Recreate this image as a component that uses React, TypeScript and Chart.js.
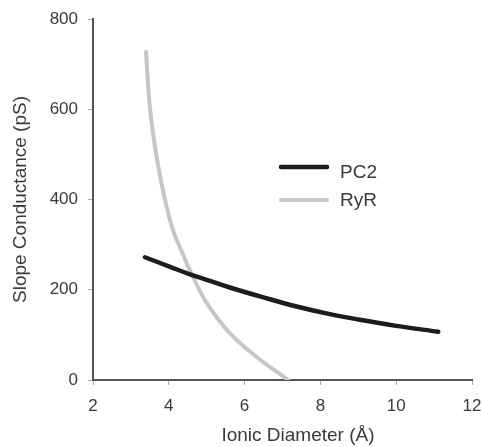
import React, { useEffect, useRef } from "react";
import { Chart, registerables } from "chart.js";
Chart.register(...registerables);

const seriesNames = ["PC2", "RyR"];
const pc2X = [3.37, 4.0, 4.56, 5.0, 5.61, 6.5, 7.37, 8.25, 9.0, 10.0, 11.11];
const pc2Y = [272, 252, 234, 222, 205, 183, 163, 146, 134, 120, 107];
const ryrX = [3.4, 3.5, 3.68, 3.9, 4.12, 4.35, 4.58, 5.0, 5.61, 6.32, 7.15];
const ryrY = [727, 605, 494, 399, 330, 283, 239, 171, 104, 51, 0];
const xTitle = "Ionic Diameter (Å)";
const yTitle = "Slope Conductance (pS)";

const FONT = "'Liberation Sans', Arial, sans-serif";
const TEXT = "#3a3a3a";

const overlay = {
  id: "overlay",
  afterDraw(chart: any) {
    const ctx = chart.ctx;
    const a = chart.chartArea;
    ctx.save();
    ctx.fillStyle = TEXT;
    ctx.font = `19px ${FONT}`;
    ctx.textAlign = "center";
    ctx.textBaseline = "middle";
    ctx.fillText(xTitle, a.left + 205, 436);
    ctx.save();
    ctx.translate(21, (a.top + a.bottom) / 2);
    ctx.rotate(-Math.PI / 2);
    ctx.fillText(yTitle, 0, 0);
    ctx.restore();
    const ds = chart.data.datasets;
    const ys = [167, 200];
    const ty = [173, 201];
    ds.forEach((d: any, i: number) => {
      ctx.strokeStyle = d.borderColor;
      ctx.lineWidth = d.borderWidth;
      ctx.lineCap = "round";
      ctx.beginPath();
      ctx.moveTo(a.left + 188, ys[i]);
      ctx.lineTo(a.left + 234, ys[i]);
      ctx.stroke();
      ctx.fillStyle = TEXT;
      ctx.font = `19px ${FONT}`;
      ctx.textAlign = "left";
      ctx.textBaseline = "middle";
      ctx.fillText(d.label, a.left + 247, ty[i]);
    });
    ctx.restore();
  },
};

export default function App() {
  const ref = useRef<HTMLCanvasElement>(null);
  useEffect(() => {
    if (!ref.current) return;
    const chart = new Chart(ref.current, {
      type: "line",
      data: {
        datasets: [
          {
            label: seriesNames[0],
            data: pc2X.map((x, i) => ({ x, y: pc2Y[i] })),
            borderColor: "#1c1c1c",
            borderWidth: 4.5,
            pointRadius: 0,
            tension: 0.4,
            borderCapStyle: "round",
            fill: false,
          },
          {
            label: seriesNames[1],
            data: ryrX.map((x, i) => ({ x, y: ryrY[i] })),
            borderColor: "#c6c6c6",
            borderWidth: 4,
            pointRadius: 0,
            tension: 0.4,
            borderCapStyle: "round",
            fill: false,
          },
        ],
      },
      options: {
        responsive: false,
        animation: false,
        layout: { padding: { top: 19, right: 10, left: 0, bottom: 0 } },
        plugins: { legend: { display: false }, tooltip: { enabled: false } },
        scales: {
          x: {
            type: "linear",
            min: 2,
            max: 12,
            ticks: { stepSize: 2, color: TEXT, font: { size: 17, family: FONT }, padding: 11, maxRotation: 0 },
            grid: { drawOnChartArea: false, drawTicks: true, tickLength: 5, color: "#aaa" },
            border: { display: true, color: "#555", width: 2 },
            afterFit: (s: any) => { s.height = 67; s.paddingLeft = 0; s.paddingRight = 0; },
          },
          y: {
            min: 0,
            max: 800,
            ticks: { stepSize: 200, color: TEXT, font: { size: 17, family: FONT }, padding: 10 },
            grid: { drawOnChartArea: false, drawTicks: true, tickLength: 5, color: "#aaa" },
            border: { display: true, color: "#555", width: 2 },
            afterFit: (s: any) => { s.width = 93; s.paddingTop = 0; s.paddingBottom = 0; },
          },
        },
      },
      plugins: [overlay],
    } as any);
    return () => chart.destroy();
  }, []);
  return (
    <div style={{ position: "absolute", left: 0, top: 0, width: 482, height: 447, background: "#fff" }}>
      <canvas ref={ref} width={482} height={447} />
    </div>
  );
}
